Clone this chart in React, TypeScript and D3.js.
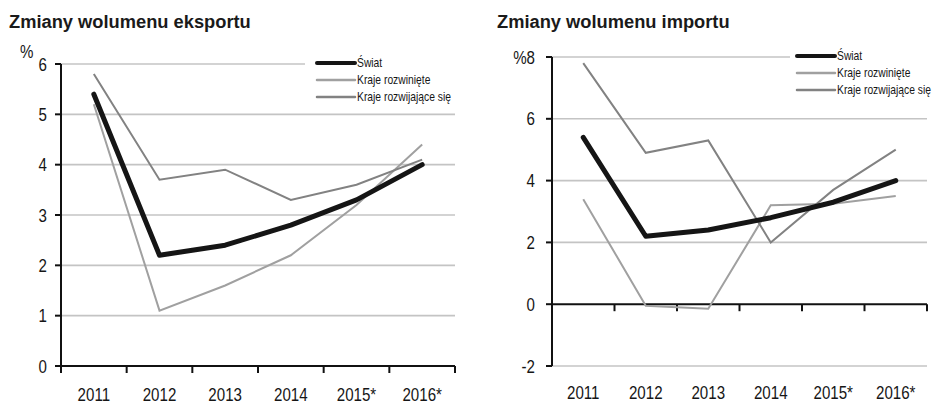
import React from 'react';
import * as d3 from 'd3';

const years = ['2011', '2012', '2013', '2014', '2015*', '2016*'];

// export volume changes, %
const exportWorld = [5.4, 2.2, 2.4, 2.8, 3.3, 4.0];
const exportDeveloped = [5.2, 1.1, 1.6, 2.2, 3.2, 4.4];
const exportDeveloping = [5.8, 3.7, 3.9, 3.3, 3.6, 4.1];

// import volume changes, %
const importWorld = [5.4, 2.2, 2.4, 2.8, 3.3, 4.0];
const importDeveloped = [3.4, -0.05, -0.15, 3.2, 3.25, 3.5];
const importDeveloping = [7.8, 4.9, 5.3, 2.0, 3.7, 5.0];

const legendLabels = ['Świat', 'Kraje rozwinięte', 'Kraje rozwijające się'];
const exportTicks = [0, 1, 2, 3, 4, 5, 6];
const importTicks = [-2, 0, 2, 4, 6, 8];

const COL_WORLD = '#151515';
const COL_DEV = '#a0a0a0';
const COL_DEVING = '#828282';
const GRID = '#c4c4c4';
const SANS = '"Liberation Sans", Arial, sans-serif';
const INK = '#161616';

// condensed label: scale glyphs horizontally like the narrow font of the original
const Narrow: React.FC<{ x: number; y: number; anchor: string; children: React.ReactNode; size?: number; k?: number }> = ({
  x, y, anchor, children, size = 18, k = 0.84
}) => (
  <text transform={`translate(${x},${y}) scale(${k},1)`} textAnchor={anchor} fontFamily={SANS}
    fontSize={size} fill={INK}>{children}</text>
);

interface PanelProps {
  title: string;
  titleX: number;
  x0: number;
  x1: number;
  yTop: number;
  yBottom: number;
  domain: [number, number];
  ticks: number[];
  series: number[][];
  topGridEnd: number;
  legendX: number;
  legendY: number;
  labelRight: number;
  labelY: number;
}

const Panel: React.FC<PanelProps> = ({
  title, titleX, x0, x1, yTop, yBottom, domain, ticks, series,
  topGridEnd, legendX, legendY, labelRight, labelY
}) => {
  const x = d3.scaleBand<string>().domain(years).range([x0, x1]).padding(0);
  const y = d3.scaleLinear().domain(domain).range([yBottom, yTop]);
  const cx = (i: number) => (x(years[i]) as number) + x.bandwidth() / 2;
  const line = d3.line<number>().x((_, i) => cx(i)).y((d) => y(d));
  const axisY = y(0);
  const colors = [COL_WORLD, COL_DEV, COL_DEVING];
  const widths = [5, 2, 2];
  const bounds = years.map((yr) => x(yr) as number).concat([x1]);

  return (
    <g>
      <text x={titleX} y={28} fontFamily={SANS} fontWeight="bold" fontSize={18.3} fill="#1a1a1a">{title}</text>

      {/* gridlines */}
      {ticks.filter((t) => t !== 0).map((t) => (
        <line key={t} x1={x0} x2={t === domain[1] ? topGridEnd : x1} y1={y(t)} y2={y(t)}
          stroke={GRID} strokeWidth={1.6} />
      ))}

      {/* y axis */}
      <line x1={x0} x2={x0} y1={yTop} y2={yBottom} stroke="#111" strokeWidth={2} />
      {ticks.map((t) => (
        <g key={t}>
          <line x1={x0 - 6} x2={x0} y1={y(t)} y2={y(t)} stroke="#111" strokeWidth={2} />
          {t !== domain[1] && (
            <Narrow x={labelRight} y={y(t) + 6.5} anchor="end">{t}</Narrow>
          )}
        </g>
      ))}

      {/* x axis at zero */}
      <line x1={x0} x2={x1} y1={axisY} y2={axisY} stroke="#111" strokeWidth={2} />
      {bounds.map((b, i) => (
        <line key={i} x1={b} x2={b} y1={axisY} y2={axisY + 7} stroke="#111" strokeWidth={2} />
      ))}
      {years.map((yr, i) => (
        <Narrow key={yr} x={cx(i)} y={labelY} anchor="middle">{yr}</Narrow>
      ))}

      {/* series */}
      {[1, 2, 0].map((k) => (
        <path key={k} d={line(series[k]) || ''} fill="none" stroke={colors[k]}
          strokeWidth={widths[k]} strokeLinejoin={k === 0 ? 'round' : 'miter'}
          strokeLinecap={k === 0 ? 'round' : 'butt'} />
      ))}

      {/* legend */}
      {legendLabels.map((lab, i) => (
        <g key={lab} transform={`translate(${legendX},${legendY + i * 17})`}>
          <line x1={0} x2={38} y1={0} y2={0} stroke={colors[i]} strokeWidth={i === 0 ? 4 : 2.5}
            strokeLinecap="round" />
          <Narrow x={40} y={4} anchor="start" size={12} k={0.86}>{lab}</Narrow>
        </g>
      ))}
    </g>
  );
};

const App: React.FC = () => {
  return (
    <svg width={943} height={404} style={{ position: 'fixed', left: 0, top: 0, background: '#fff' }}>
      <Panel title="Zmiany wolumenu eksportu" titleX={9} x0={61} x1={455} yTop={64} yBottom={366}
        domain={[0, 6]} ticks={exportTicks} series={[exportWorld, exportDeveloped, exportDeveloping]}
        topGridEnd={305} legendX={317} legendY={63} labelRight={47} labelY={401} />
      <Narrow x={20} y={58} anchor="start">%</Narrow>
      <Narrow x={47} y={70.5} anchor="end">6</Narrow>

      <Panel title="Zmiany wolumenu importu" titleX={497} x0={552} x1={927} yTop={57} yBottom={366}
        domain={[-2, 8]} ticks={importTicks} series={[importWorld, importDeveloped, importDeveloping]}
        topGridEnd={790} legendX={797} legendY={56} labelRight={535} labelY={399} />
      <Narrow x={535} y={63.5} anchor="end">%8</Narrow>
    </svg>
  );
};

export default App;
